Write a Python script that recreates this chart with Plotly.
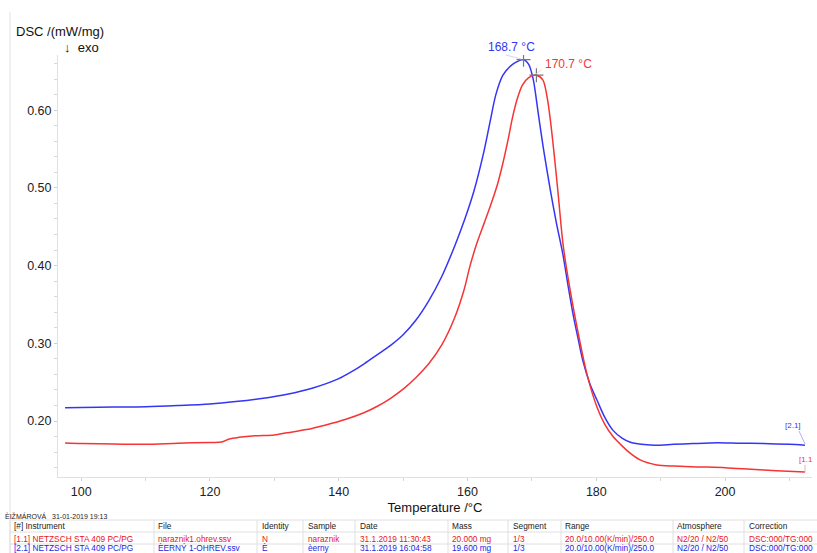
import plotly.graph_objects as go

# ---------------- data ----------------
blue_T = [97.5, 100, 105, 110, 115, 120, 124, 128, 132, 136, 140, 142, 144, 146, 148, 150, 152,
          154, 156, 158, 159.5, 161.0, 162.5, 163.5, 164.4, 165.5, 167.0, 168.7, 169.5,
          170.2, 171.0, 171.8, 172.8, 173.8, 174.8, 175.6, 176.4, 177.2, 177.9, 179.0, 180.1,
          181.3, 182.6, 184.0, 185.2, 187.0, 189.0, 192.0, 195.0, 198.8, 202.0, 206.0, 210.0,
          212.4]
blue_DSC = [0.217, 0.2175, 0.218, 0.2185, 0.220, 0.222, 0.225, 0.229, 0.2345, 0.2425, 0.2545, 0.2635,
            0.274, 0.2855, 0.297, 0.311, 0.330, 0.355, 0.386, 0.425, 0.458, 0.496, 0.545, 0.585,
            0.620, 0.645, 0.659, 0.665, 0.659, 0.640, 0.595, 0.550, 0.500, 0.455, 0.415, 0.375,
            0.337, 0.305, 0.278, 0.248, 0.227, 0.205, 0.188, 0.178, 0.173, 0.170, 0.169, 0.170,
            0.171, 0.172, 0.1715, 0.171, 0.170, 0.169]

red_T = [97.5, 100, 105, 110, 115, 120, 121.8, 123, 124.5, 127, 130, 132, 135, 138, 141, 144,
         146, 148, 150, 152, 154, 156, 158, 159.5, 160.4, 161.5, 162.6, 163.6, 164.6, 165.5,
         166.3, 167.0, 167.7, 168.5, 169.5, 170.7, 171.7, 172.4, 172.9, 173.5, 174.1, 174.8,
         175.5, 177.0, 178.5, 180.1, 181.3, 182.6, 184.0, 185.2, 186.8, 189.4, 192, 196, 200,
         204, 208, 212.4]
red_DSC = [0.1717, 0.171, 0.1705, 0.170, 0.1715, 0.1725, 0.173, 0.177, 0.179, 0.181, 0.182, 0.185,
           0.189, 0.195, 0.202, 0.211, 0.219, 0.229, 0.241, 0.256, 0.274, 0.298, 0.333, 0.370,
           0.400, 0.430, 0.455, 0.478, 0.503, 0.532, 0.562, 0.591, 0.614, 0.632, 0.642, 0.645,
           0.639, 0.615, 0.585, 0.540, 0.490, 0.430, 0.390, 0.321, 0.262, 0.218, 0.196, 0.180,
           0.168, 0.159, 0.150, 0.1435, 0.142, 0.141, 0.140, 0.138, 0.136, 0.1344]

peak_blue = (168.7, 0.665)
peak_red = (170.7, 0.645)
peak_blue_label = "168.7 °C"
peak_red_label = "170.7 °C"

x_ticks = [100, 120, 140, 160, 180, 200]
y_ticks = [0.20, 0.30, 0.40, 0.50, 0.60]

stamp = "ÈIŽMÁROVÁ   31-01-2019 19:13"
table_header = ["[#] Instrument", "File", "Identity", "Sample", "Date", "Mass", "Segment",
                "Range", "Atmosphere", "Correction"]
row_red = ["[1.1] NETZSCH STA 409 PC/PG", "naraznik1.ohrev.ssv", "N", "naraznik",
           "31.1.2019 11:30:43", "20.000 mg", "1/3", "20.0/10.00(K/min)/250.0",
           "N2/20 / N2/50", "DSC:000/TG:000"]
row_blue = ["[2.1] NETZSCH STA 409 PC/PG", "ÈERNÝ 1-OHREV.ssv", "È", "èerny",
            "31.1.2019 16:04:58", "19.600 mg", "1/3", "20.0/10.00(K/min)/250.0",
            "N2/20 / N2/50", "DSC:000/TG:000"]

# ---------------- layout constants ----------------
W, H = 817, 553
L, R, T, B = 58, 812, 55, 477
BLUE = "#3535f5"
RED = "#f53535"
FONT = "Liberation Sans, Arial, sans-serif"


def xp(px):
    return (px - L) / (R - L)


def yp(py):
    return (B - py) / (B - T)


fig = go.Figure()
fig.add_trace(go.Scatter(x=blue_T, y=blue_DSC, mode="lines",
                         line=dict(color=BLUE, width=1.5, shape="spline", smoothing=0.8),
                         showlegend=False, hoverinfo="skip"))
fig.add_trace(go.Scatter(x=red_T, y=red_DSC, mode="lines",
                         line=dict(color=RED, width=1.5, shape="spline", smoothing=0.8),
                         showlegend=False, hoverinfo="skip"))
fig.add_trace(go.Scatter(x=[peak_blue[0], peak_red[0]], y=[peak_blue[1], peak_red[1]],
                         mode="markers",
                         marker=dict(symbol="cross-thin", size=10,
                                     line=dict(color="#777777", width=1.2)),
                         showlegend=False, hoverinfo="skip"))

annotations = []
shapes = []

# peak labels
annotations.append(dict(x=peak_blue[0], y=peak_blue[1], xref="x", yref="y", text=peak_blue_label,
                        showarrow=False, xshift=-12, yshift=13, xanchor="center", yanchor="middle",
                        font=dict(family=FONT, size=12, color=BLUE)))
annotations.append(dict(x=peak_red[0], y=peak_red[1], xref="x", yref="y", text=peak_red_label,
                        showarrow=False, xshift=32, yshift=11, xanchor="center", yanchor="middle",
                        font=dict(family=FONT, size=12, color=RED)))
shapes.append(dict(type="line", xref="paper", yref="paper", x0=xp(506), y0=yp(55), x1=xp(521),
                   y1=yp(59), line=dict(color="#c8c8ee", width=0.8)))
shapes.append(dict(type="line", xref="paper", yref="paper", x0=xp(541), y0=yp(70), x1=xp(536),
                   y1=yp(74), line=dict(color="#eec8c8", width=0.8)))

# end labels
annotations.append(dict(x=xp(783), y=yp(425), xref="paper", yref="paper", text="[2.1]",
                        showarrow=False, xanchor="left", yanchor="middle",
                        font=dict(family=FONT, size=8, color=BLUE)))
annotations.append(dict(x=xp(797), y=yp(459), xref="paper", yref="paper", text="[1.1",
                        showarrow=False, xanchor="left", yanchor="middle",
                        font=dict(family=FONT, size=8, color=RED)))
shapes.append(dict(type="line", xref="paper", yref="paper", x0=xp(799), y0=yp(431), x1=xp(805),
                   y1=yp(444), line=dict(color="#9a9af5", width=0.8)))
shapes.append(dict(type="line", xref="paper", yref="paper", x0=xp(805), y0=yp(465), x1=xp(805),
                   y1=yp(472), line=dict(color="#f59a9a", width=0.8)))

# axis captions
annotations.append(dict(x=xp(14), y=yp(32), xref="paper", yref="paper", text="DSC /(mW/mg)",
                        showarrow=False, xanchor="left", yanchor="middle",
                        font=dict(family=FONT, size=13, color="#111")))
annotations.append(dict(x=xp(62), y=yp(47), xref="paper", yref="paper", text="↓  exo",
                        showarrow=False, xanchor="left", yanchor="middle",
                        font=dict(family=FONT, size=13, color="#111")))

# left page border
shapes.append(dict(type="line", xref="paper", yref="paper", x0=xp(10), y0=yp(12), x1=xp(10),
                   y1=yp(553), line=dict(color="#e2e2e2", width=1)))

# bottom table
annotations.append(dict(x=xp(3), y=yp(516), xref="paper", yref="paper", text=stamp,
                        showarrow=False, xanchor="left", yanchor="middle",
                        font=dict(family=FONT, size=7, color="#222")))
col_x = [12, 156, 260, 306, 358, 450, 511, 563, 675, 747]
col_sep = [10, 154, 257, 303, 355, 448, 508, 561, 673, 744]
row_y = [526, 538.5, 548]
rows = [(table_header, "#222"), (row_red, "#e8141a"), (row_blue, "#1d1de0")]
for (cells, color), ry in zip(rows, row_y):
    for cx, txt in zip(col_x, cells):
        annotations.append(dict(x=xp(cx), y=yp(ry), xref="paper", yref="paper", text=txt,
                                showarrow=False, xanchor="left", yanchor="middle",
                                font=dict(family=FONT, size=8.3, color=color)))
for hy in [520, 532, 544]:
    shapes.append(dict(type="line", xref="paper", yref="paper", x0=xp(10), y0=yp(hy), x1=xp(817),
                       y1=yp(hy), line=dict(color="#e0e0e0", width=1)))
for sx in col_sep:
    shapes.append(dict(type="line", xref="paper", yref="paper", x0=xp(sx), y0=yp(520), x1=xp(sx),
                       y1=yp(553), line=dict(color="#e0e0e0", width=1)))

fig.update_layout(
    width=W, height=H,
    margin=dict(l=L, r=W - R, t=T, b=H - B, pad=0),
    plot_bgcolor="white", paper_bgcolor="white",
    font=dict(family=FONT, color="#222"),
    annotations=annotations, shapes=shapes,
    xaxis=dict(range=[96.4, 213.5], tickvals=x_ticks, ticktext=[str(v) for v in x_ticks],
               showgrid=False, zeroline=False, showline=True, linecolor="#e0e0e0", linewidth=1,
               ticks="outside", ticklen=3, tickcolor="#d0d0d0",
               tickfont=dict(family=FONT, size=12.5, color="#222"),
               minor=dict(dtick=10, tick0=0, ticks="outside", ticklen=3, tickcolor="#d8d8d8"),
               title=dict(text="Temperature /°C", font=dict(family=FONT, size=13, color="#111"),
                          standoff=4)),
    yaxis=dict(range=[0.128, 0.671], tickvals=y_ticks, ticktext=["%.2f" % v for v in y_ticks],
               showgrid=False, zeroline=False, showline=True, linecolor="#e0e0e0", linewidth=1,
               ticks="outside", ticklen=3, tickcolor="#d0d0d0",
               tickfont=dict(family=FONT, size=12.5, color="#222"),
               minor=dict(dtick=0.02, tick0=0, ticks="outside", ticklen=3, tickcolor="#d8d8d8")),
)

fig.write_html("out.html", config={"displayModeBar": False},
               post_script="document.body.style.margin='0';document.body.style.padding='0';"
                           "document.body.style.overflow='hidden';")
